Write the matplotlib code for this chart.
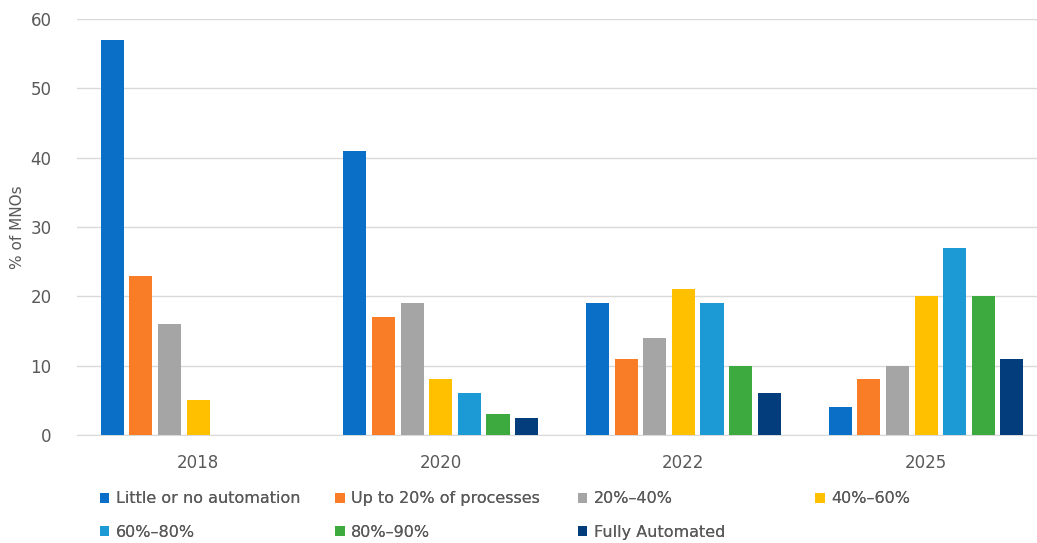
import numpy as np
import matplotlib.pyplot as plt

years = ["2018", "2020", "2022", "2025"]
series_names = ["Little or no automation", "Up to 20% of processes", "20%\u201340%",
                "40%\u201360%", "60%\u201380%", "80%\u201390%", "Fully Automated"]
little = [57, 41, 19, 4]
upto20 = [23, 17, 11, 8]
p20_40 = [16, 19, 14, 10]
p40_60 = [5, 8, 21, 20]
p60_80 = [0, 6, 19, 27]
p80_90 = [0, 3, 10, 20]
fully = [0, 2.5, 6, 11]
colors = ["#0A6FC6", "#F97D26", "#A5A5A5", "#FFC000", "#1B9AD6", "#3DAA3F", "#033D7B"]

values = [little, upto20, p20_40, p40_60, p60_80, p80_90, fully]

fig = plt.figure(figsize=(10.37, 5.43), dpi=100)
ax = fig.add_axes([0.074, 0.199, 0.936, 0.766])

x = np.arange(len(years))
step = 0.118
width = 0.095
handles = []
for i, (vals, c) in enumerate(zip(values, colors)):
    h = ax.bar(x + (i - 3) * step, vals, width, color=c, label=series_names[i], zorder=3)
    handles.append(h)

ax.set_xlim(-0.5, 3.5)
ax.set_ylim(0, 60)
ax.set_yticks(range(0, 61, 10))
ax.set_xticks(x)
ax.set_xticklabels(years)
ax.grid(axis="y", color="#D9D9D9", lw=1, zorder=0)
for s in ["top", "right", "left"]:
    ax.spines[s].set_visible(False)
ax.spines["bottom"].set_color("#D9D9D9")
ax.tick_params(length=0, colors="#595959", labelsize=12)
ax.tick_params(axis="x", pad=14)
ax.tick_params(axis="y", pad=18)
ax.set_ylabel("% of MNOs", color="#595959", fontsize=11, labelpad=4)

# legend: one legend per column so the columns sit where the reference has them
col_x = [0.096, 0.323, 0.557, 0.786]
for col in range(4):
    idx = [col, col + 4] if col + 4 < len(values) else [col]
    leg = fig.legend([handles[k] for k in idx], [series_names[k] for k in idx],
                     loc="upper left", bbox_to_anchor=(col_x[col], 0.095),
                     frameon=False, fontsize=11.5, handlelength=0.6, handleheight=0.6,
                     handletextpad=0.4, labelspacing=1.15, borderaxespad=0, borderpad=0,
                     labelcolor="#595959")
    fig.add_artist(leg)

fig.savefig("out.png", dpi=100)
